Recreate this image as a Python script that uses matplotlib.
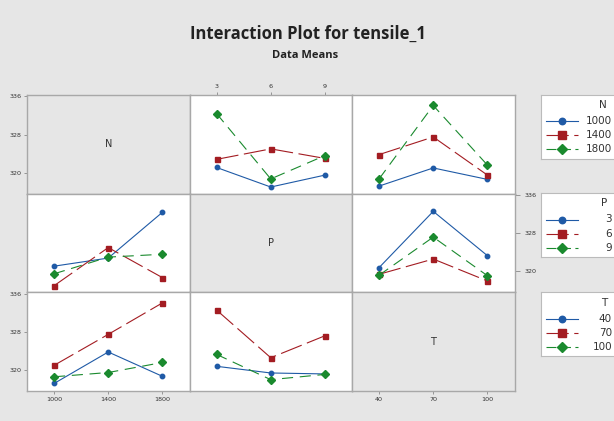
import matplotlib
matplotlib.use('Agg')
import matplotlib.pyplot as plt
from matplotlib.lines import Line2D
import numpy as np

# factor levels
factors = ['N', 'P', 'T']
N_levels = ['1000', '1400', '1800']
P_levels = ['3', '6', '9']
T_levels = ['40', '70', '100']
levels = {'N': N_levels, 'P': P_levels, 'T': T_levels}

# cell means (row factor level x column factor level)
NP = [[321.1, 317.0, 319.5],
      [322.8, 325.0, 323.0],
      [332.4, 318.7, 323.6]]
NT = [[317.2, 321.0, 318.6],
      [323.8, 327.5, 319.5],
      [318.7, 334.1, 321.6]]
PT = [[320.8, 332.6, 323.3],
      [319.4, 322.6, 318.0],
      [319.2, 327.2, 319.1]]
yticks = [320, 328, 336]

means = {('N', 'P'): np.array(NP), ('N', 'T'): np.array(NT), ('P', 'T'): np.array(PT)}
means[('P', 'N')] = means[('N', 'P')].T
means[('T', 'N')] = means[('N', 'T')].T
means[('T', 'P')] = means[('P', 'T')].T

colors = ['#1f5aa6', '#a31c22', '#1a8a2e']
markers = ['o', 's', 'D']
msizes = [3.2, 3.6, 3.6]
styles = ['-', (0, (20, 5)), (0, (10, 6))]

bg = '#e6e6e6'
edge = '#a8a8a8'
W, H = 614, 421
fig = plt.figure(figsize=(W / 100, H / 100), dpi=100, facecolor=bg)

x0, y0 = 27, 95
cw, rh = 162.5, 98.7

fig.text(0.502, 1 - 34 / H, 'Interaction Plot for tensile_1', ha='center', va='center',
         fontsize=12, fontweight='bold', family='Open Sans', color='#222222')
fig.text(0.497, 1 - 56 / H, 'Data Means', ha='center', va='center',
         fontsize=8, fontweight='bold', family='Open Sans', color='#222222')

tfs = 4.6
axes = {}
for i, rf in enumerate(factors):
    for j, cf in enumerate(factors):
        left = (x0 + j * cw) / W
        bottom = 1 - (y0 + (i + 1) * rh) / H
        ax = fig.add_axes([left, bottom, cw / W, rh / H])
        axes[(i, j)] = ax
        ax.set_xlim(-0.5, 2.5)
        ax.set_ylim(315.6, 336.3)
        for s in ax.spines.values():
            s.set_color(edge)
            s.set_linewidth(1.0)
        ax.tick_params(length=2.5, width=0.6, color='#888888', labelsize=tfs,
                       labelcolor='#333333', pad=1.5)
        ax.set_xticks([])
        ax.set_yticks([])
        if i == j:
            ax.set_facecolor(bg)
            ax.text(0.5, 0.5, rf, transform=ax.transAxes, ha='center', va='center',
                    fontsize=7, color='#333333')
            continue
        ax.set_facecolor('white')
        m = means[(rf, cf)]
        for k in range(3):
            ax.plot(range(3), m[k], color=colors[k], linestyle=styles[k], lw=0.8,
                    marker=markers[k], ms=msizes[k])

# axis tick labels around the matrix
for i in (0, 2):
    ax = axes[(i, 0)]
    ax.set_yticks(yticks)
    ax.set_yticklabels([str(v) for v in yticks])
ax = axes[(1, 2)]
ax.yaxis.tick_right()
ax.set_yticks(yticks)
ax.set_yticklabels([str(v) for v in yticks])
ax.tick_params(axis='y', length=3.5, pad=4)
ax = axes[(0, 1)]
ax.xaxis.tick_top()
ax.set_xticks(range(3))
ax.set_xticklabels(P_levels)
for j in (0, 2):
    ax = axes[(2, j)]
    ax.set_xticks(range(3))
    ax.set_xticklabels(levels[factors[j]])

# legend boxes, one per row (box runs off the right edge like the original)
leg_tops = [95, 193, 292]
lw_box, lh_box = 90, 64
for i, rf in enumerate(factors):
    lax = fig.add_axes([541 / W, 1 - (leg_tops[i] + lh_box) / H, lw_box / W, lh_box / H])
    lax.set_xlim(0, lw_box)
    lax.set_ylim(lh_box, 0)
    lax.set_xticks([])
    lax.set_yticks([])
    lax.set_facecolor('white')
    for s in lax.spines.values():
        s.set_color('#bbbbbb')
        s.set_linewidth(0.8)
    lax.text(66, 10.5, rf, ha='right', va='center', fontsize=7.5, color='#333333')
    for k in range(3):
        yy = 26.5 + 14 * k
        lax.add_line(Line2D([5, 37], [yy, yy], color=colors[k], lw=0.8,
                            linestyle=styles[k] if k < 2 else (0, (9, 4))))
        lax.plot([21], [yy], marker=markers[k], color=colors[k], ms=msizes[k] * 1.45)
        lax.text(71, yy, levels[rf][k], ha='right', va='center', fontsize=7.5,
                 color='#333333')

fig.savefig('out.png', dpi=100, facecolor=bg)
